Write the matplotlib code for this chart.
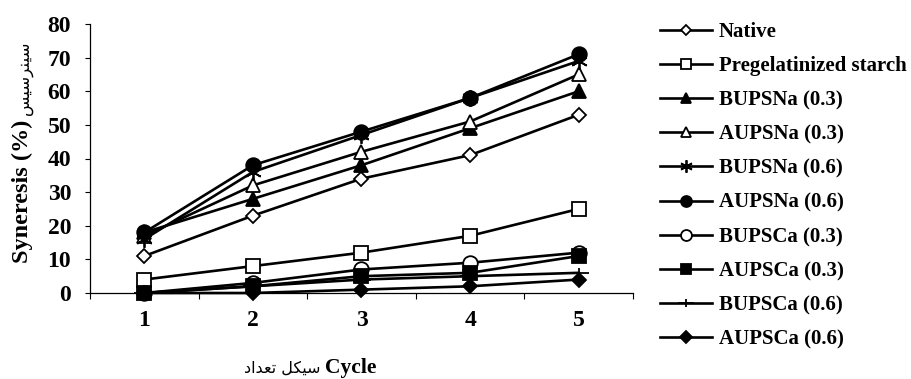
import matplotlib
matplotlib.use("Agg")
import matplotlib.pyplot as plt
from matplotlib.path import Path
import numpy as np

cycles = [1, 2, 3, 4, 5]
native = [11, 23, 34, 41, 53]
pregel = [4, 8, 12, 17, 25]
bupsna03 = [18, 28, 38, 49, 60]
aupsna03 = [17, 32, 42, 51, 65]
bupsna06 = [16, 36, 47, 58, 69]
aupsna06 = [18, 38, 48, 58, 71]
bupsca03 = [0, 3, 7, 9, 12]
aupsca03 = [0, 2, 5, 6, 11]
bupsca06 = [0, 2, 4, 5, 6]
aupsca06 = [0, 0, 1, 2, 4]

labels = ["Native", "Pregelatinized starch", "BUPSNa (0.3)", "AUPSNa (0.3)",
          "BUPSNa (0.6)", "AUPSNa (0.6)", "BUPSCa (0.3)", "AUPSCa (0.3)",
          "BUPSCa (0.6)", "AUPSCa (0.6)"]
series = [native, pregel, bupsna03, aupsna03, bupsna06, aupsna06,
          bupsca03, aupsca03, bupsca06, aupsca06]

# wide plus marker (horizontal bar longer than vertical)
wide_plus = Path([(-1, 0), (1, 0), (0, -0.5), (0, 0.5)],
                 [Path.MOVETO, Path.LINETO, Path.MOVETO, Path.LINETO])

styles = [
    dict(marker="D", mfc="white", ms=7),
    dict(marker="s", mfc="white", ms=10),
    dict(marker="^", mfc="black", ms=10),
    dict(marker="^", mfc="white", ms=10),
    dict(marker=(6, 2, 0), mfc="black", ms=12),
    dict(marker="o", mfc="black", ms=10.5),
    dict(marker="o", mfc="white", ms=10.5),
    dict(marker="s", mfc="black", ms=10),
    dict(marker=wide_plus, mfc="black", ms=15),
    dict(marker="D", mfc="black", ms=7.5),
]

serif = ["Liberation Serif", "DejaVu Sans"]
plt.rcParams["font.family"] = serif
plt.rcParams["font.weight"] = "bold"

fig = plt.figure(figsize=(9.11, 3.79), dpi=100)
ax = fig.add_axes([90 / 911, 1 - 293 / 379, 543 / 911, 269 / 379])

lines = []
for y, lab, st in zip(series, labels, styles):
    ln, = ax.plot(cycles, y, color="black", lw=1.9, mec="black", mew=1.3,
                  label=lab, clip_on=False, **st)
    lines.append(ln)

ax.set_xlim(0.5, 5.5)
ax.set_ylim(0, 80)
ax.set_yticks(np.arange(0, 81, 10))
ax.set_xticks(cycles)
ax.set_xticks(np.arange(0.5, 5.6, 1), minor=True)
ax.tick_params(axis="x", which="major", length=0, pad=12, labelsize=17)
ax.tick_params(axis="x", which="minor", length=4.5, width=0.8, direction="out")
ax.tick_params(axis="y", length=3.6, width=0.8, direction="out", labelsize=17, pad=10)
for lab in ax.get_xticklabels() + ax.get_yticklabels():
    lab.set_fontweight("bold")
for s in ("top", "right"):
    ax.spines[s].set_visible(False)
for s in ("left", "bottom"):
    ax.spines[s].set_linewidth(0.9)

# y label: English part (bold serif) and Persian part (visual-order presentation forms)
fig.text(22 / 911, 1 - 191 / 379, "Syneresis (%)", rotation=90, ha="center",
         va="center", fontsize=17.5, fontweight="bold", family=serif)
fa_y = "\uFEB2\uFBFF\uFEB3\uFEAE\uFEE8\uFBFF\uFEB3"
fig.text(24 / 911, 1 - 78 / 379, fa_y, rotation=90, ha="center", va="center",
         fontsize=12, fontweight="normal", family=["DejaVu Sans"])

# x label: Persian part then "Cycle"
fa_x = "\uFEA9\uFE8D\uFEAA\uFECC\uFE97 \uFEDE\uFB91\uFBFF\uFEB3"
fig.text(320 / 911, 1 - 373 / 379, fa_x, ha="right", va="baseline",
         fontsize=11.5, fontweight="normal", family=["DejaVu Sans"])
fig.text(325 / 911, 1 - 373 / 379, "Cycle", ha="left", va="baseline",
         fontsize=15.5, fontweight="bold", family=serif)

leg = fig.legend(handles=lines, loc="upper left",
                 bbox_to_anchor=(660 / 911, 1 - 22 / 379),
                 frameon=False, numpoints=1, markerscale=0.75, handlelength=2.5,
                 handletextpad=0.33, labelspacing=0.68, borderaxespad=0,
                 borderpad=0,
                 prop=dict(family=serif, weight="bold", size=15))

fig.savefig("out.png", dpi=100)
